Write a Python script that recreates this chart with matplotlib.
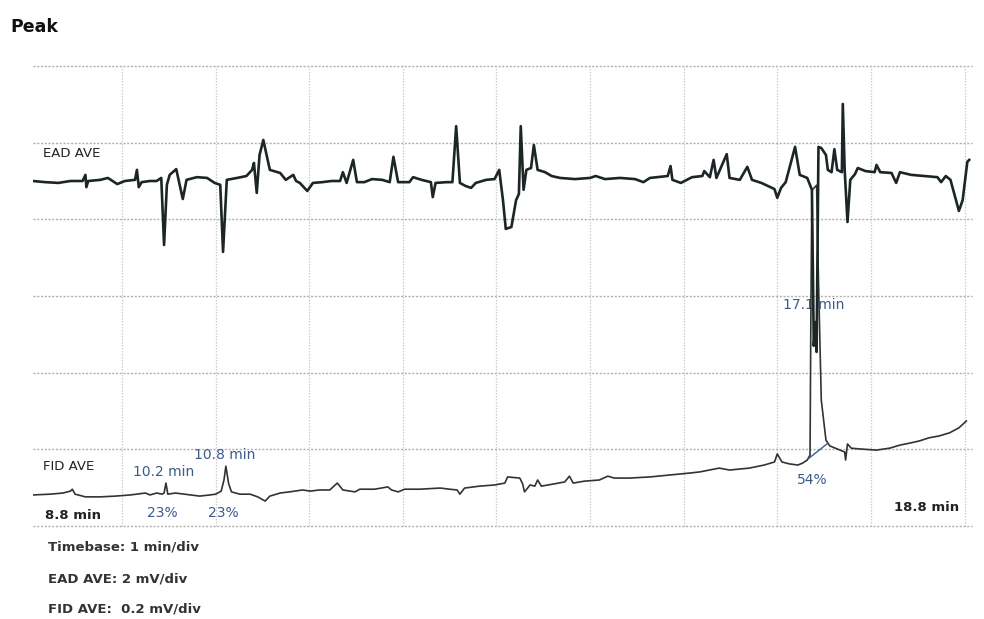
import numpy as np
import matplotlib.pyplot as plt

# GC-EAD run, 8.8 - 18.8 min
ead_t = [8.77, 8.90, 9.04, 9.17, 9.30, 9.33, 9.34, 9.36, 9.49, 9.57, 9.67, 9.75, 9.86, 9.88, 9.90, 9.93,
         10.02, 10.09, 10.14, 10.17, 10.20, 10.23, 10.30, 10.33, 10.37, 10.41, 10.52, 10.63, 10.71, 10.77,
         10.80, 10.84, 10.95, 11.05, 11.11, 11.13, 11.16, 11.19, 11.23, 11.30, 11.41, 11.47, 11.55, 11.58,
         11.62, 11.70, 11.76, 11.86, 11.96, 12.05, 12.08, 12.12, 12.19, 12.23, 12.31, 12.39, 12.50, 12.58,
         12.62, 12.67, 12.79, 12.83, 12.92, 13.02, 13.04, 13.07, 13.19, 13.25, 13.29, 13.33, 13.39, 13.45,
         13.50, 13.61, 13.70, 13.75, 13.79, 13.82, 13.88, 13.93, 13.96, 13.98, 14.01, 14.04, 14.09, 14.12,
         14.16, 14.24, 14.31, 14.40, 14.56, 14.72, 14.78, 14.88, 15.04, 15.20, 15.29, 15.36, 15.55, 15.58,
         15.60, 15.69, 15.81, 15.92, 15.94, 16.00, 16.04, 16.07, 16.18, 16.21, 16.32, 16.40, 16.45, 16.55,
         16.69, 16.72, 16.76, 16.81, 16.85, 16.91, 16.96, 17.04, 17.09, 17.11, 17.13, 17.14, 17.16, 17.19,
         17.24, 17.26, 17.30, 17.33, 17.36, 17.41, 17.42, 17.44, 17.47, 17.50, 17.55, 17.58, 17.66, 17.76,
         17.78, 17.82, 17.94, 17.99, 18.03, 18.15, 18.29, 18.43, 18.47, 18.52, 18.57, 18.66, 18.70, 18.75,
         18.77]
ead_mv = [0, -0.03, -0.05, 0, 0, 0.16, -0.16, 0, 0.03, 0.08, -0.08, 0, 0.03, 0.29, -0.16, -0.03,
          0, 0, 0.08, -1.67, -0.10, 0.16, 0.31, -0.03, -0.47, 0.03, 0.10, 0.08, -0.05, -0.10,
          -1.85, 0.03, 0.08, 0.13, 0.29, 0.47, -0.31, 0.68, 1.07, 0.29, 0.21, 0.03, 0.16, 0,
          -0.05, -0.26, -0.05, -0.03, 0, 0, 0.23, -0.05, 0.55, -0.03, -0.03, 0.05, 0.03, -0.03,
          0.63, -0.03, -0.03, 0.10, 0.03, -0.03, -0.42, -0.05, -0.03, -0.03, 1.43, -0.05, -0.13, -0.18,
          -0.05, 0.03, 0.05, 0.29, -0.50, -1.25, -1.20, -0.50, -0.34, 1.43, -0.23, 0.29, 0.34, 0.94,
          0.29, 0.23, 0.13, 0.08, 0.05, 0.08, 0.13, 0.05, 0.08, 0.05, -0.03, 0.08, 0.13, 0.39,
          0.03, -0.05, 0.10, 0.13, 0.26, 0.10, 0.55, 0.08, 0.70, 0.08, 0.03, 0.37, 0.03, -0.05,
          -0.21, -0.44, -0.18, -0.03, 0.34, 0.89, 0.16, 0.08, -0.23, -4.30, -3.68, -4.46, 0.89, 0.86,
          0.68, 0.29, 0.23, 0.83, 0.29, 0.23, 2.01, 0.29, -1.07, 0.03, 0.18, 0.34, 0.26, 0.23,
          0.42, 0.23, 0.21, -0.05, 0.23, 0.16, 0.13, 0.10, -0.03, 0.13, 0.03, -0.78, -0.50, 0.50,
          0.55]

fid_t = [8.77, 8.95, 9.09, 9.17, 9.19, 9.22, 9.33, 9.49, 9.65, 9.81, 9.97, 10.02, 10.09, 10.15, 10.17,
         10.19, 10.21, 10.29, 10.39, 10.55, 10.66, 10.72, 10.78, 10.81, 10.83, 10.86, 10.89, 10.98, 11.09,
         11.17, 11.25, 11.30, 11.41, 11.51, 11.65, 11.73, 11.83, 11.94, 12.02, 12.08, 12.21, 12.26, 12.42,
         12.56, 12.60, 12.67, 12.74, 12.90, 13.12, 13.22, 13.30, 13.33, 13.38, 13.54, 13.70, 13.81, 13.84,
         13.97, 14.00, 14.02, 14.08, 14.13, 14.16, 14.20, 14.34, 14.45, 14.50, 14.54, 14.66, 14.82, 14.91,
         14.98, 15.14, 15.36, 15.57, 15.78, 15.89, 16.10, 16.21, 16.42, 16.58, 16.69, 16.72, 16.77, 16.85,
         16.94, 16.99, 17.04, 17.07, 17.08, 17.09, 17.14, 17.16, 17.19, 17.24, 17.28, 17.39, 17.44, 17.45,
         17.47, 17.51, 17.60, 17.78, 17.92, 18.03, 18.13, 18.24, 18.34, 18.45, 18.56, 18.66, 18.74]
fid_mv = [0.081, 0.083, 0.086, 0.091, 0.096, 0.083, 0.076, 0.076, 0.078, 0.081, 0.086, 0.081, 0.086, 0.083, 0.086,
          0.112, 0.083, 0.086, 0.083, 0.078, 0.081, 0.083, 0.091, 0.120, 0.156, 0.110, 0.089, 0.083, 0.083,
          0.076, 0.065, 0.078, 0.086, 0.089, 0.094, 0.091, 0.094, 0.094, 0.112, 0.094, 0.089, 0.096, 0.096,
          0.102, 0.094, 0.089, 0.096, 0.096, 0.099, 0.096, 0.094, 0.083, 0.099, 0.104, 0.107, 0.112, 0.128,
          0.125, 0.110, 0.089, 0.107, 0.104, 0.120, 0.104, 0.110, 0.115, 0.130, 0.112, 0.117, 0.120, 0.130,
          0.125, 0.125, 0.128, 0.133, 0.138, 0.141, 0.151, 0.146, 0.151, 0.159, 0.167, 0.188, 0.167, 0.162,
          0.159, 0.164, 0.172, 0.185, 0.589, 0.876, 0.889, 0.642, 0.329, 0.224, 0.209, 0.198, 0.193, 0.172,
          0.214, 0.203, 0.201, 0.198, 0.203, 0.211, 0.216, 0.222, 0.230, 0.235, 0.243, 0.256, 0.274]

# integration baseline of the 17.1 min peak
base_t = [17.06, 17.26]
base_mv = [0.177, 0.216]

peaks = [(10.2, 23), (10.8, 23), (17.1, 54)]

ead_scale = 2.0    # mV/div
fid_scale = 0.2    # mV/div
ead_offset = 4.5   # div

blue = '#3b5b8c'
dark = '#222222'

fig = plt.figure(figsize=(9.84, 6.19), dpi=100)
ax = fig.add_axes([33/984, 1-526/619, (972-33)/984, (526-66)/619])

ax.set_xlim(8.77, 18.80)
ax.set_ylim(0, 6)
for s in ax.spines.values():
    s.set_visible(False)
ax.set_xticks([])
ax.set_yticks([])

for yy in range(7):
    ax.axhline(yy, color='#b0b0b0', lw=1.0, ls=(0, (1.5, 1.2)), zorder=0, clip_on=False)
for xx in np.arange(9.72, 18.73, 1.0):
    ax.axvline(xx, color='#cccccc', lw=0.9, ls=(0, (1.2, 1.2)), zorder=0, clip_on=False)

ax.plot(fid_t, np.array(fid_mv)/fid_scale, color='#333333', lw=1.2, zorder=2)
ax.plot(base_t, np.array(base_mv)/fid_scale, color=blue, lw=1.0, zorder=2)
ax.plot(ead_t, ead_offset + np.array(ead_mv)/ead_scale, color='#1c2626', lw=1.9,
        solid_joinstyle='round', zorder=3)

ax.text(8.88, 4.865, 'EAD AVE', fontsize=9.5, color=dark, va='center')
ax.text(8.88, 0.77, 'FID AVE', fontsize=9.5, color=dark, va='center')

lab_pos = [(9.84, 0.70), (10.49, 0.93), (16.78, 2.88)]
pct_pos = [(9.99, 0.17), (10.64, 0.17), (16.93, 0.60)]
for (rt, pct), lp, pp in zip(peaks, lab_pos, pct_pos):
    ax.text(lp[0], lp[1], '%.1f min' % rt, fontsize=10, color=blue, va='center', zorder=1)
    ax.text(pp[0], pp[1], '%d%%' % pct, fontsize=10, color=blue, va='center')

ax.text(8.90, 0.14, '8.8 min', fontsize=9.5, fontweight='bold', color=dark, va='center')
ax.text(17.97, 0.235, '18.8 min', fontsize=9.5, fontweight='bold', color=dark, va='center')

fig.text(10/984, 1-27/619, 'Peak', fontsize=12.5, fontweight='bold', color='#111111', va='center')
fig.text(48/984, 1-547/619, 'Timebase: 1 min/div', fontsize=9.5, fontweight='bold', color='#333333', va='center')
fig.text(48/984, 1-579/619, 'EAD AVE: 2 mV/div', fontsize=9.5, fontweight='bold', color='#333333', va='center')
fig.text(48/984, 1-609/619, 'FID AVE:  0.2 mV/div', fontsize=9.5, fontweight='bold', color='#333333', va='center')

fig.savefig('out.png', dpi=100, facecolor='white')
